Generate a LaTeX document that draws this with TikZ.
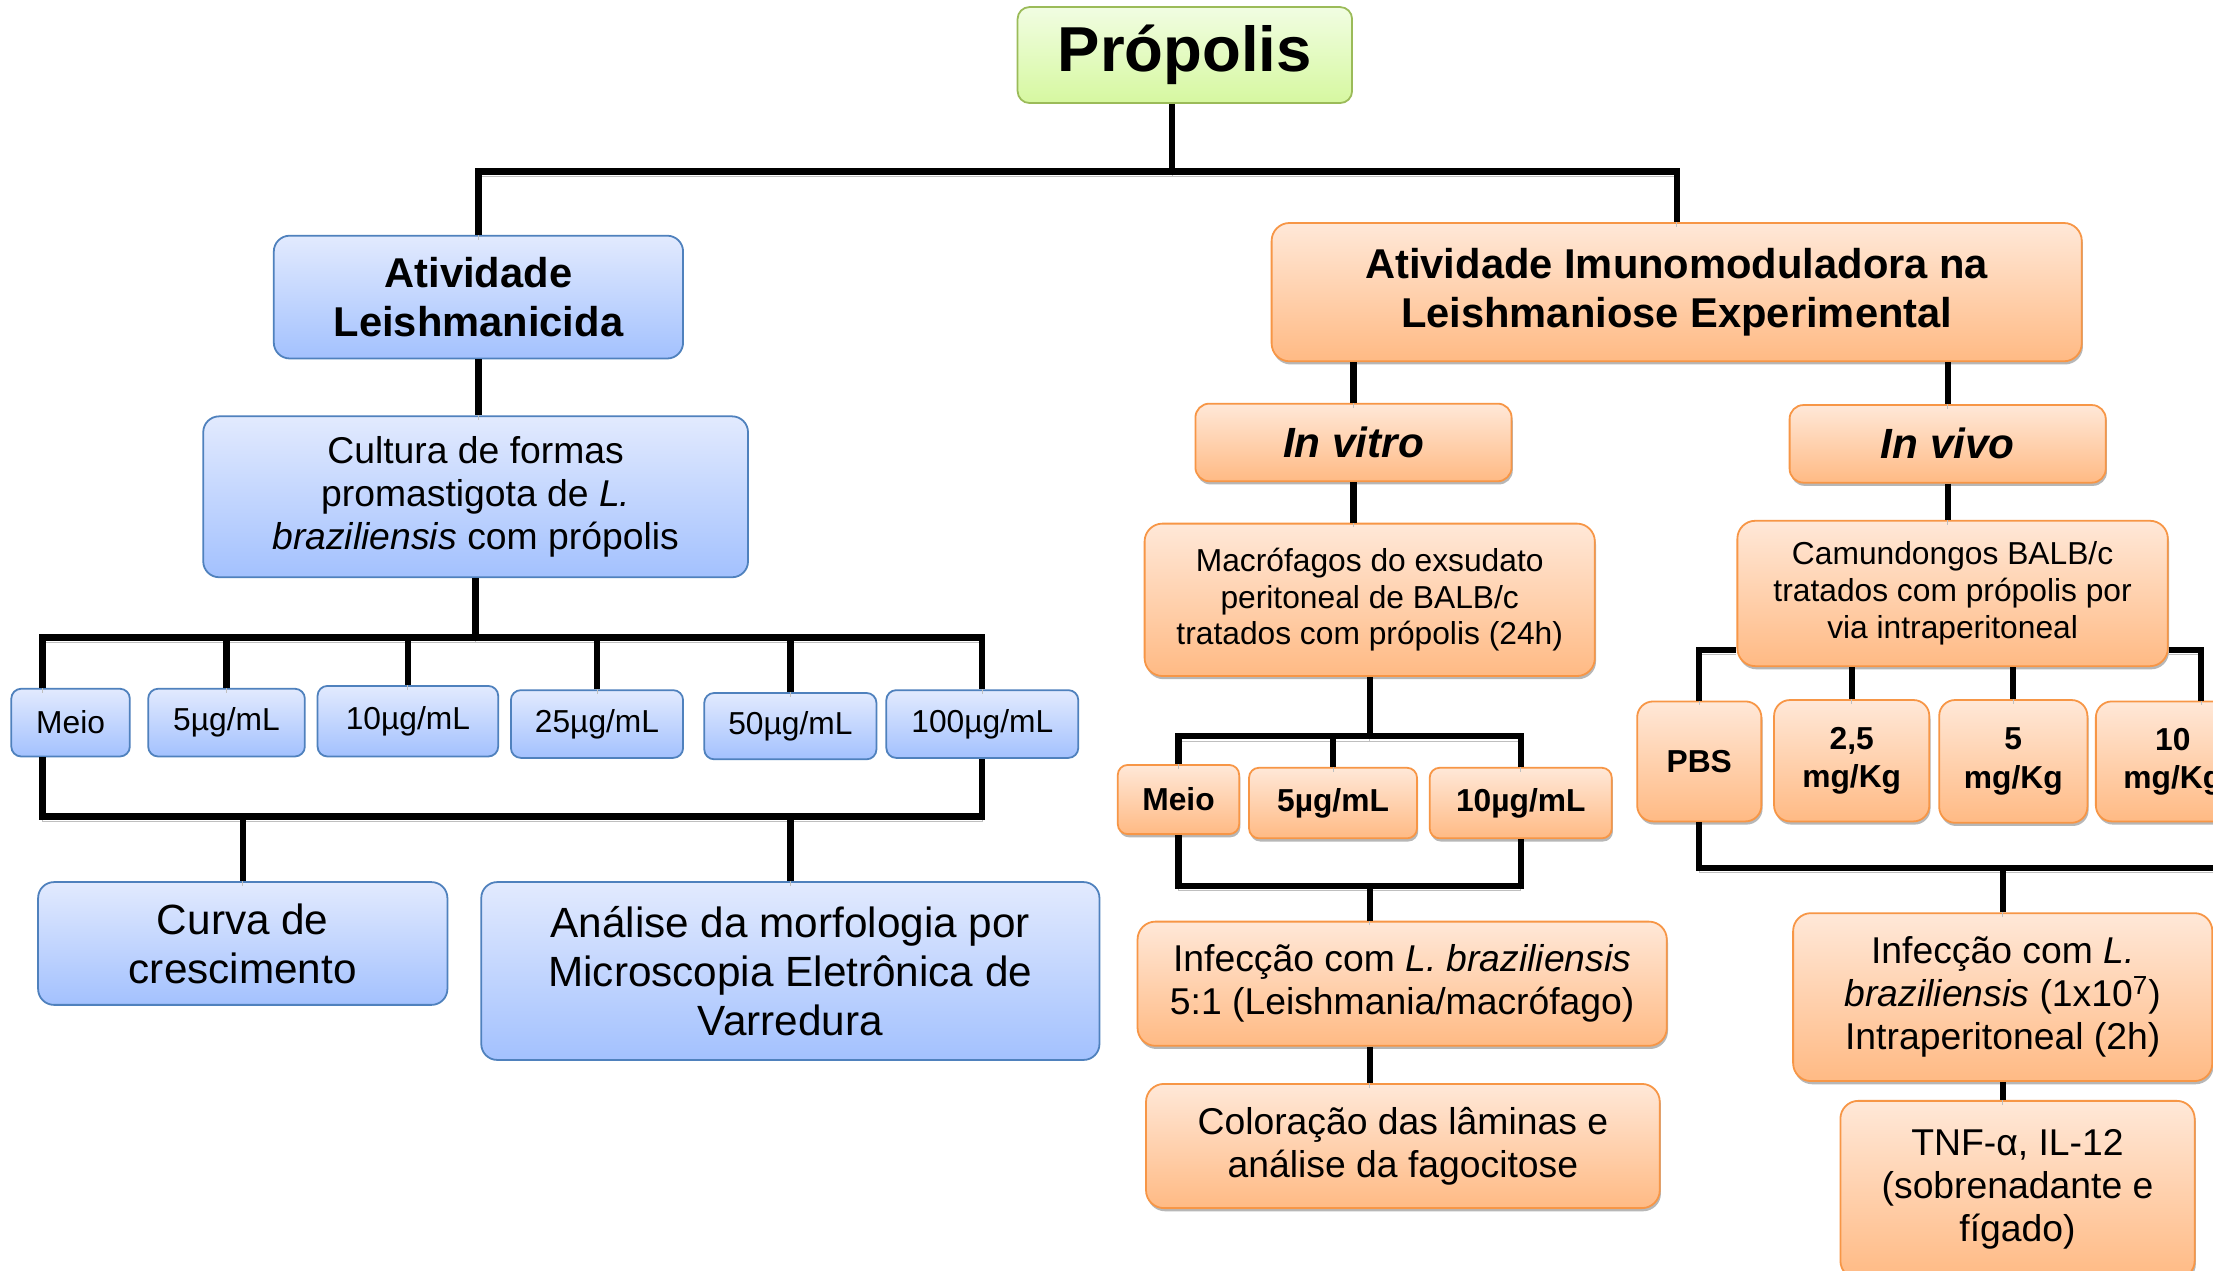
\documentclass[tikz,border=0pt]{standalone}
\usepackage{fontspec}
\setmainfont{Liberation Sans}
\usetikzlibrary{calc,shadows}

\definecolor{VertHaut}{HTML}{F1FDE2}
\definecolor{VertBas}{HTML}{D6F8A0}
\definecolor{VertBord}{HTML}{9BBB59}
\definecolor{BleuHaut}{HTML}{E2EAFE}
\definecolor{BleuBas}{HTML}{A3C1FE}
\definecolor{BleuBord}{HTML}{4F81BD}
\definecolor{OrangeHaut}{HTML}{FFE8D8}
\definecolor{OrangeBas}{HTML}{FFBA84}
\definecolor{OrangeBord}{HTML}{F79646}

\begin{document}
\begin{tikzpicture}[x=0.025cm,y=-0.025cm]
    \tikzset{BoiteVerte/.style  = {rounded corners=6pt,line width=0.9pt,draw=VertBord,top color=VertHaut,bottom color=VertBas,align=center,inner sep=0pt}}
    \tikzset{BoiteBleue/.style  = {rounded corners=#1,line width=0.9pt,draw=BleuBord,top color=BleuHaut,bottom color=BleuBas,align=center,inner sep=0pt},BoiteBleue/.default=8pt}
    \tikzset{BoiteOrange/.style = {rounded corners=#1,line width=0.9pt,draw=OrangeBord,top color=OrangeHaut,bottom color=OrangeBas,align=center,inner sep=0pt,
                                   drop shadow={shadow xshift=0.6pt,shadow yshift=-1.6pt,fill=gray!80,opacity=0.7}},BoiteOrange/.default=9pt}
    \tikzset{Taille/.style 2 args = {minimum width=#1*0.025cm,minimum height=#2*0.025cm}}
    \tikzset{Liaison/.style = {line width=3.2pt,preaction={draw=gray!50,transform canvas={yshift=-2.4pt}}}}
    \tikzset{TexteTitre/.style = {font=\fontsize{21}{25}\selectfont\bfseries}}
    \tikzset{TexteItalique/.style = {font=\fontsize{21.3}{25}\selectfont\bfseries\itshape}}
    \tikzset{TexteGrand/.style = {font=\fontsize{21.3}{24.7}\selectfont}}
    \tikzset{TexteMoyen/.style = {font=\fontsize{18.8}{21.7}\selectfont}}
    \tikzset{TextePetit/.style = {font=\fontsize{16}{18.5}\selectfont}}
    \tikzset{TextePetitGras/.style = {font=\fontsize{16}{19.2}\selectfont\bfseries}}

    \fill[white] (0,0) rectangle (1568,900);
    \useasboundingbox (0,0) rectangle (1568,900);
    \clip (0,0) rectangle (1568,900);

    % niveau 1 et 2
    \node[BoiteVerte,Taille={237}{68},font=\fontsize{32}{37}\selectfont\bfseries] (prop) at (839.5,39) {Própolis};
    \node[BoiteBleue,Taille={290}{87},TexteTitre] (leish) at (339,210.5) {Atividade\\Leishmanicida};
    \node[BoiteOrange,Taille={574}{98},TexteTitre] (imuno) at (1188,207) {Atividade Imunomoduladora na\\Leishmaniose Experimental};

    % branche leishmanicida
    \node[BoiteBleue,Taille={386}{114},TexteMoyen] (cult) at (337,352) {Cultura de formas\\promastigota de \textit{L.}\\\textit{braziliensis} com própolis};
    \node[BoiteBleue=5pt,Taille={84}{48},TextePetit] (m1) at (50,512) {Meio};
    \node[BoiteBleue=5pt,Taille={111}{48},TextePetit] (m2) at (160.5,512) {5µg/mL};
    \node[BoiteBleue=5pt,Taille={128}{50},TextePetit] (m3) at (289,511) {10µg/mL};
    \node[BoiteBleue=5pt,Taille={122}{48},TextePetit] (m4) at (423,513) {25µg/mL};
    \node[BoiteBleue=5pt,Taille={122}{47},TextePetit] (m5) at (560,514.5) {50µg/mL};
    \node[BoiteBleue=5pt,Taille={136}{48},TextePetit] (m6) at (696,513) {100µg/mL};
    \node[BoiteBleue,Taille={290}{87},TexteGrand] (curva) at (172,668.5) {Curva de\\crescimento};
    \node[BoiteBleue,Taille={438}{126},TexteGrand] (anal) at (560,688) {Análise da morfologia por\\Microscopia Eletrônica de\\Varredura};

    % branche in vitro
    \node[BoiteOrange=7pt,Taille={224}{55},TexteItalique] (vitro) at (959,313.5) {In vitro};
    \node[BoiteOrange,Taille={319}{108},TextePetit] (mac) at (970.5,425) {Macrófagos do exsudato\\peritoneal de BALB/c\\tratados com própolis (24h)};
    \node[BoiteOrange=5pt,Taille={86}{49},TextePetitGras] (v1) at (835,566.5) {Meio};
    \node[BoiteOrange=5pt,Taille={119}{50},TextePetitGras] (v2) at (944.5,569) {5µg/mL};
    \node[BoiteOrange=5pt,Taille={129}{50},TextePetitGras] (v3) at (1077.5,569) {10µg/mL};
    \node[BoiteOrange,Taille={375}{88},TexteMoyen] (infVitro) at (993.5,697) {Infecção com \textit{L. braziliensis}\\5:1 (Leishmania/macrófago)};
    \node[BoiteOrange,Taille={364}{88},TexteMoyen] (color) at (994,812) {Coloração das lâminas e\\análise da fagocitose};

    % branche in vivo
    \node[BoiteOrange=7pt,Taille={224}{55},TexteItalique] (vivo) at (1380,314.5) {In vivo};
    \node[BoiteOrange,Taille={305}{103},TextePetit] (cam) at (1383.5,420.5) {Camundongos BALB/c\\tratados com própolis por\\via intraperitoneal};
    \node[BoiteOrange=8pt,Taille={88}{85},TextePetitGras] (d1) at (1204,539.5) {PBS};
    \node[BoiteOrange=8pt,Taille={110}{86},TextePetitGras] (d2) at (1312,539) {2,5\\mg/Kg};
    \node[BoiteOrange=8pt,Taille={105}{87},TextePetitGras] (d3) at (1426.5,539.5) {5\\mg/Kg};
    \node[BoiteOrange=8pt,Taille={109}{85},TextePetitGras] (d4) at (1539.5,539.5) {10\\mg/Kg};
    \node[BoiteOrange,Taille={297}{119},TexteMoyen] (infVivo) at (1419,706.5) {Infecção com \textit{L.}\\\textit{braziliensis} (1x10\textsuperscript{7})\\Intraperitoneal (2h)};
    \node[BoiteOrange,Taille={251}{126},TexteMoyen] (tnf) at (1429.5,843) {TNF-α, IL-12\\(sobrenadante e\\fígado)};
    \coordinate (finDroite) at (1600,615);

    % liaisons
    \draw[Liaison] ($(prop.south)+(-9,0)$) -- ++(0,48) coordinate (nProp);
    \draw[Liaison] (leish.north) |- (nProp) -| (imuno.north);
    \draw[Liaison] (leish.south) -- (leish.south |- cult.north);

    \draw[Liaison] (cult.south) -- ++(0,42) coordinate (nCult);
    \draw[Liaison] ($(m1.north)+(-20,0)$) |- (nCult) -| (m6.north);
    \draw[Liaison]
    (m2.north) -- (m2.north |- nCult)
    (m3.north) -- (m3.north |- nCult)
    (m4.north) -- (m4.north |- nCult)
    (m5.north) -- (m5.north |- nCult);
    \draw[Liaison] ($(m1.south)+(-20,0)$) -- ++(0,42) coordinate (sCult) -| (m6.south);
    \draw[Liaison]
    (curva.north) -- (curva.north |- sCult)
    (anal.north) -- (anal.north |- sCult);

    \draw[Liaison]
    (vitro.north) -- (vitro.north |- imuno.south)
    (vivo.north) -- (vivo.north |- imuno.south)
    (vitro.south) -- (vitro.south |- mac.north)
    (vivo.south) -- (vivo.south |- cam.north);

    \draw[Liaison] (mac.south) -- ++(0,42) coordinate (nMac);
    \draw[Liaison] (v1.north) |- (nMac) -| (v3.north);
    \draw[Liaison] (v2.north) -- (v2.north |- nMac);
    \draw[Liaison] (v1.south) -- ++(0,36) coordinate (sMac) -| (v3.south);
    \draw[Liaison]
    (mac.south |- infVitro.north) -- (mac.south |- sMac)
    (mac.south |- infVitro.south) -- (mac.south |- color.north);

    \draw[Liaison] ($(cam.south west)+(0,-12)$) -| (d1.north);
    \draw[Liaison] ($(cam.south east)+(0,-12)$) -| ($(d4.north)+(20,0)$);
    \draw[Liaison]
    (d2.north) -- (d2.north |- cam.south)
    (d3.north) -- (d3.north |- cam.south);
    \draw[Liaison] (d1.south) |- (finDroite);
    \draw[Liaison]
    (infVivo.north) -- (infVivo.north |- finDroite)
    (infVivo.south) -- (infVivo.south |- tnf.north);
\end{tikzpicture}
\end{document}
